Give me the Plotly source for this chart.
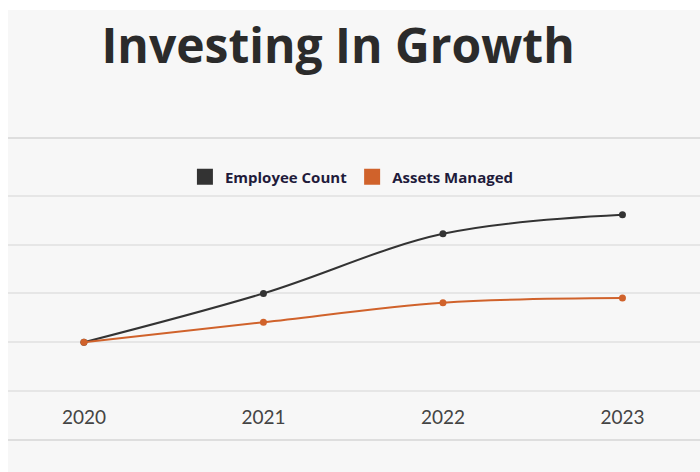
import plotly.graph_objects as go

# Data
years = [2020, 2021, 2022, 2023]
employee_count = [1.0, 2.0, 3.22, 3.61]
assets_managed = [1.0, 1.41, 1.81, 1.905]
series_names = ["Employee Count", "Assets Managed"]
series_colors = ["#333333", "#d0622b"]
grid_values = [-1, 0, 1, 2, 3, 4]

fig = go.Figure()

for name, vals, col in zip(series_names, [employee_count, assets_managed], series_colors):
    fig.add_trace(go.Scatter(
        x=years, y=vals, mode="lines+markers", name=name,
        line=dict(color=col, width=2, shape="spline", smoothing=1.0),
        marker=dict(color=col, size=7),
        showlegend=False, hoverinfo="x+y+name",
    ))
    # square swatch for the legend
    fig.add_trace(go.Scatter(
        x=[None], y=[None], mode="markers", name=name,
        marker=dict(color=col, symbol="square", size=17),
        showlegend=True,
    ))

fig.update_layout(
    width=700, height=472,
    paper_bgcolor="white",
    plot_bgcolor="#f7f7f7",
    margin=dict(l=8, r=0, t=139, b=33),
    title=dict(
        text="<b>Investing In Growth</b>",
        font=dict(family="Open Sans", size=48, color="#2b2b2b"),
        x=0.483, xanchor="center", xref="container",
        y=0.902, yanchor="middle", yref="container",
    ),
    legend=dict(
        orientation="h", x=0.497, xanchor="center", y=0.873, yanchor="middle",
        bgcolor="rgba(0,0,0,0)",
        font=dict(family="Open Sans", size=15, color="#1f1b3b", weight=700),
        itemwidth=30, tracegroupgap=0,
    ),
    shapes=[
        # light backdrop behind title and chart
        dict(type="rect", xref="paper", yref="paper", x0=0, x1=1.01, y0=-0.2, y1=1.43,
             fillcolor="#f7f7f7", line=dict(width=0), layer="below"),
    ],
    showlegend=True,
)

fig.update_xaxes(
    range=[2019.577, 2023.432], tickvals=years, ticktext=[str(y) for y in years],
    showgrid=False, zeroline=False,
    showline=True, mirror=True, linecolor="#dedede", linewidth=2,
    ticks="", ticklabelposition="inside", ticklabelstandoff=12,
    tickfont=dict(family="Lato", size=19, color="#444444"),
)
fig.update_yaxes(
    range=[-0.98, 5.16], tickmode="array", tickvals=grid_values,
    showgrid=True, gridcolor="#e6e6e6", gridwidth=1.5,
    zeroline=False, showticklabels=False, showline=False,
)

fig.write_html("out.html")
